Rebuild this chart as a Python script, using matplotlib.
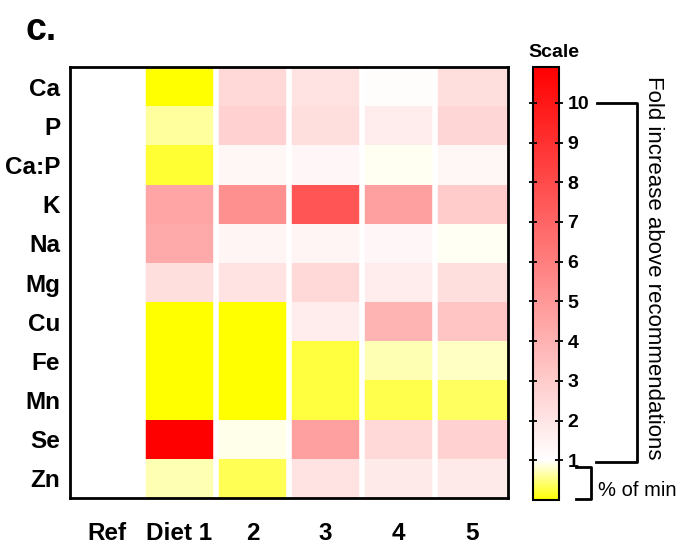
import matplotlib
matplotlib.use("Agg")
import matplotlib.pyplot as plt
import numpy as np
from matplotlib.colors import LinearSegmentedColormap

plt.rcParams['font.family'] = ['Liberation Sans', 'DejaVu Sans']

# nutrients (rows) and diets (columns)
nutrients = ["Ca", "P", "Ca:P", "K", "Na", "Mg", "Cu", "Fe", "Mn", "Se", "Zn"]
diets = ["Ref", "Diet 1", "2", "3", "4", "5"]

# fold of recommendation; below 1 = fraction of minimum
ref = [1, 1, 1, 1, 1, 1, 1, 1, 1, 1, 1]
diet1 = [0.0, 0.62, 0.2, 4.5, 4.3, 2.3, 0.0, 0.0, 0.0, 10.9, 0.7]
diet2 = [2.5, 2.8, 1.35, 5.3, 1.4, 2.1, 0.0, 0.0, 0.0, 0.92, 0.33]
diet3 = [2.1, 2.3, 1.3, 7.6, 1.4, 2.5, 1.7, 0.25, 0.25, 4.7, 2.1]
diet4 = [1.1, 1.7, 0.95, 4.7, 1.3, 1.7, 3.9, 0.7, 0.3, 2.5, 1.8]
diet5 = [2.3, 2.6, 1.35, 3.0, 0.96, 2.3, 3.3, 0.77, 0.38, 2.8, 1.8]

cb_ticks = [1, 2, 3, 4, 5, 6, 7, 8, 9, 10]

vmin, vmax = 0, 10.9
data = np.array([ref, diet1, diet2, diet3, diet4, diet5]).T

cmap = LinearSegmentedColormap.from_list(
    "ywr", [(0.0, "#ffff00"), (1 / vmax, "#ffffff"), (1.0, "#ff0000")], N=4096)

fig = plt.figure(figsize=(6.76, 5.45), dpi=100)
ax = fig.add_axes([0.1036, 0.0862, 0.648, 0.7908])
mesh = ax.pcolormesh(data, cmap=cmap, vmin=vmin, vmax=vmax)
ax.set_xlim(0, len(diets))
ax.set_ylim(len(nutrients), 0)
# white gaps between diet columns
ax.vlines(np.arange(1, len(diets)), 0, len(nutrients), color="white", lw=4)

ax.set_xticks(np.arange(len(diets)) + 0.5)
ax.set_xticklabels(diets, fontsize=17.5, fontweight="bold")
ax.set_yticks(np.arange(len(nutrients)) + 0.5)
ax.set_yticklabels(nutrients, fontsize=17.5, fontweight="bold")
ax.tick_params(axis="both", length=0)
ax.tick_params(axis="x", pad=17)
ax.tick_params(axis="y", pad=7)
for s in ax.spines.values():
    s.set_linewidth(2)

cax = fig.add_axes([0.788, 0.0826, 0.039, 0.7944])
cb = fig.colorbar(mesh, cax=cax, ticks=cb_ticks)
cb.outline.set_linewidth(1.5)
cax.tick_params(axis="y", direction="inout", length=6, width=1.3, labelsize=14, pad=3)
for t in cax.get_yticklabels():
    t.set_fontweight("bold")
cax.yaxis.set_ticks_position("both")
cax.tick_params(axis="y", labelleft=False, labelright=True)

fig.text(0.82, 0.904, "Scale", ha="center", va="center", fontsize=14, fontweight="bold")
fig.text(0.038, 0.927, "c.", ha="left", va="baseline", fontsize=27, fontweight="bold")

# brackets
def fy(v):
    return 0.0826 + 0.7944 * (v - vmin) / (vmax - vmin)

big = [(597 / 676, fy(10)), (637 / 676, fy(10)), (637 / 676, fy(1) - 0.004), (596 / 676, fy(1) - 0.004)]
fig.add_artist(plt.Line2D([p[0] for p in big], [p[1] for p in big], color="black", lw=2,
                          transform=fig.transFigure))
small = [(576 / 676, fy(1) - 0.012), (591 / 676, fy(1) - 0.012), (591 / 676, 1 - 499 / 545), (576 / 676, 1 - 499 / 545)]
fig.add_artist(plt.Line2D([p[0] for p in small], [p[1] for p in small], color="black", lw=2,
                          transform=fig.transFigure))

fig.text(654 / 676, 1 - 268 / 545, "Fold increase above recommendations", rotation=-90,
         ha="center", va="center", fontsize=16)
fig.text(598 / 676, 1 - 490 / 545, "% of min", ha="left", va="center", fontsize=14.5)

fig.savefig("out.png", dpi=100)
